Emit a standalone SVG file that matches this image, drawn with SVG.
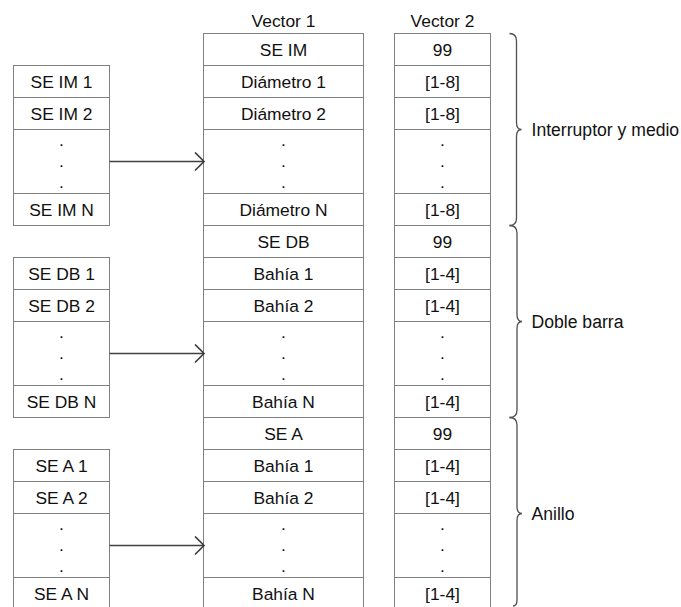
<svg xmlns="http://www.w3.org/2000/svg" width="681" height="607" viewBox="0 0 681 607">
  <defs>
    <style>
      .cell { fill: #ffffff; stroke: #808080; stroke-width: 1; }
      .t { font-family: "Liberation Sans", Arial, sans-serif; font-size: 17.4px; fill: #111111; text-anchor: middle; }
      .lbl { font-family: "Liberation Sans", Arial, sans-serif; font-size: 17.6px; fill: #111111; }
      .link { fill: none; stroke: #404040; stroke-width: 1.7; }
      .brace { fill: none; stroke: #505050; stroke-width: 1.3; }
    </style>
    <marker id="open" viewBox="0 0 12 20" refX="10" refY="10" markerWidth="12" markerHeight="20" markerUnits="userSpaceOnUse" orient="auto">
      <path d="M1 1 L10 10 L1 19" fill="none" stroke="#404040" stroke-width="1.7"/>
    </marker>
  </defs>

  <rect width="681" height="607" fill="#ffffff"/>

  <!-- column headers -->
  <g id="headers">
    <text class="t" x="283.5" y="27">Vector 1</text>
    <text class="t" x="442.5" y="27">Vector 2</text>
  </g>

  <!-- ===== Interruptor y medio block (rows 33.5 .. 225.5) ===== -->
  <g id="list-im">
    <rect class="cell" x="13.5" y="65.5" width="96" height="32"/>
    <rect class="cell" x="13.5" y="97.5" width="96" height="32"/>
    <rect class="cell" x="13.5" y="129.5" width="96" height="64"/>
    <rect class="cell" x="13.5" y="193.5" width="96" height="32"/>
    <text class="t" x="61.5" y="87.5">SE IM 1</text>
    <text class="t" x="61.5" y="119.5">SE IM 2</text>
    <text class="t" x="61.5" y="146">.</text>
    <text class="t" x="61.5" y="167">.</text>
    <text class="t" x="61.5" y="188">.</text>
    <text class="t" x="61.5" y="215.5">SE IM N</text>
  </g>
  <g id="vector1-im">
    <rect class="cell" x="203.5" y="33.5" width="160" height="32"/>
    <rect class="cell" x="203.5" y="65.5" width="160" height="32"/>
    <rect class="cell" x="203.5" y="97.5" width="160" height="32"/>
    <rect class="cell" x="203.5" y="129.5" width="160" height="64"/>
    <rect class="cell" x="203.5" y="193.5" width="160" height="32"/>
    <text class="t" x="283.5" y="55.5">SE IM</text>
    <text class="t" x="283.5" y="87.5">Diámetro 1</text>
    <text class="t" x="283.5" y="119.5">Diámetro 2</text>
    <text class="t" x="283.5" y="146">.</text>
    <text class="t" x="283.5" y="167">.</text>
    <text class="t" x="283.5" y="188">.</text>
    <text class="t" x="283.5" y="215.5">Diámetro N</text>
  </g>
  <g id="vector2-im">
    <rect class="cell" x="394.5" y="33.5" width="96" height="32"/>
    <rect class="cell" x="394.5" y="65.5" width="96" height="32"/>
    <rect class="cell" x="394.5" y="97.5" width="96" height="32"/>
    <rect class="cell" x="394.5" y="129.5" width="96" height="64"/>
    <rect class="cell" x="394.5" y="193.5" width="96" height="32"/>
    <text class="t" x="442.5" y="55.5">99</text>
    <text class="t" x="442.5" y="87.5">[1-8]</text>
    <text class="t" x="442.5" y="119.5">[1-8]</text>
    <text class="t" x="442.5" y="146">.</text>
    <text class="t" x="442.5" y="167">.</text>
    <text class="t" x="442.5" y="188">.</text>
    <text class="t" x="442.5" y="215.5">[1-8]</text>
  </g>
  <g id="group-im">
    <path class="brace" d="M509.5 33.5 Q516.5 33.5 516.5 41 V122.5 Q516.5 129.5 521.5 129.5 Q516.5 129.5 516.5 136.5 V218 Q516.5 225.5 509.5 225.5"/>
    <text class="lbl" x="531.5" y="135.5">Interruptor y medio</text>
  </g>

  <!-- ===== Doble barra block (rows 225.5 .. 417.5) ===== -->
  <g id="list-db">
    <rect class="cell" x="13.5" y="257.5" width="96" height="32"/>
    <rect class="cell" x="13.5" y="289.5" width="96" height="32"/>
    <rect class="cell" x="13.5" y="321.5" width="96" height="64"/>
    <rect class="cell" x="13.5" y="385.5" width="96" height="32"/>
    <text class="t" x="61.5" y="279.5">SE DB 1</text>
    <text class="t" x="61.5" y="311.5">SE DB 2</text>
    <text class="t" x="61.5" y="338">.</text>
    <text class="t" x="61.5" y="359">.</text>
    <text class="t" x="61.5" y="380">.</text>
    <text class="t" x="61.5" y="407.5">SE DB N</text>
  </g>
  <g id="vector1-db">
    <rect class="cell" x="203.5" y="225.5" width="160" height="32"/>
    <rect class="cell" x="203.5" y="257.5" width="160" height="32"/>
    <rect class="cell" x="203.5" y="289.5" width="160" height="32"/>
    <rect class="cell" x="203.5" y="321.5" width="160" height="64"/>
    <rect class="cell" x="203.5" y="385.5" width="160" height="32"/>
    <text class="t" x="283.5" y="247.5">SE DB</text>
    <text class="t" x="283.5" y="279.5">Bahía 1</text>
    <text class="t" x="283.5" y="311.5">Bahía 2</text>
    <text class="t" x="283.5" y="338">.</text>
    <text class="t" x="283.5" y="359">.</text>
    <text class="t" x="283.5" y="380">.</text>
    <text class="t" x="283.5" y="407.5">Bahía N</text>
  </g>
  <g id="vector2-db">
    <rect class="cell" x="394.5" y="225.5" width="96" height="32"/>
    <rect class="cell" x="394.5" y="257.5" width="96" height="32"/>
    <rect class="cell" x="394.5" y="289.5" width="96" height="32"/>
    <rect class="cell" x="394.5" y="321.5" width="96" height="64"/>
    <rect class="cell" x="394.5" y="385.5" width="96" height="32"/>
    <text class="t" x="442.5" y="247.5">99</text>
    <text class="t" x="442.5" y="279.5">[1-4]</text>
    <text class="t" x="442.5" y="311.5">[1-4]</text>
    <text class="t" x="442.5" y="338">.</text>
    <text class="t" x="442.5" y="359">.</text>
    <text class="t" x="442.5" y="380">.</text>
    <text class="t" x="442.5" y="407.5">[1-4]</text>
  </g>
  <g id="group-db">
    <path class="brace" d="M509.5 225.5 Q517 225.5 517 233 V314.5 Q517 321.5 522 321.5 Q517 321.5 517 328.5 V410 Q517 417.5 509.5 417.5"/>
    <text class="lbl" x="531.5" y="327.5">Doble barra</text>
  </g>

  <!-- ===== Anillo block (rows 417.5 .. 609.5, cut at the lower edge) ===== -->
  <g id="list-a">
    <rect class="cell" x="13.5" y="449.5" width="96" height="32"/>
    <rect class="cell" x="13.5" y="481.5" width="96" height="32"/>
    <rect class="cell" x="13.5" y="513.5" width="96" height="64"/>
    <rect class="cell" x="13.5" y="577.5" width="96" height="32"/>
    <text class="t" x="61.5" y="471.5">SE A 1</text>
    <text class="t" x="61.5" y="503.5">SE A 2</text>
    <text class="t" x="61.5" y="530">.</text>
    <text class="t" x="61.5" y="551">.</text>
    <text class="t" x="61.5" y="572">.</text>
    <text class="t" x="61.5" y="599.5">SE A N</text>
  </g>
  <g id="vector1-a">
    <rect class="cell" x="203.5" y="417.5" width="160" height="32"/>
    <rect class="cell" x="203.5" y="449.5" width="160" height="32"/>
    <rect class="cell" x="203.5" y="481.5" width="160" height="32"/>
    <rect class="cell" x="203.5" y="513.5" width="160" height="64"/>
    <rect class="cell" x="203.5" y="577.5" width="160" height="32"/>
    <text class="t" x="283.5" y="439.5">SE A</text>
    <text class="t" x="283.5" y="471.5">Bahía 1</text>
    <text class="t" x="283.5" y="503.5">Bahía 2</text>
    <text class="t" x="283.5" y="530">.</text>
    <text class="t" x="283.5" y="551">.</text>
    <text class="t" x="283.5" y="572">.</text>
    <text class="t" x="283.5" y="599.5">Bahía N</text>
  </g>
  <g id="vector2-a">
    <rect class="cell" x="394.5" y="417.5" width="96" height="32"/>
    <rect class="cell" x="394.5" y="449.5" width="96" height="32"/>
    <rect class="cell" x="394.5" y="481.5" width="96" height="32"/>
    <rect class="cell" x="394.5" y="513.5" width="96" height="64"/>
    <rect class="cell" x="394.5" y="577.5" width="96" height="32"/>
    <text class="t" x="442.5" y="439.5">99</text>
    <text class="t" x="442.5" y="471.5">[1-4]</text>
    <text class="t" x="442.5" y="503.5">[1-4]</text>
    <text class="t" x="442.5" y="530">.</text>
    <text class="t" x="442.5" y="551">.</text>
    <text class="t" x="442.5" y="572">.</text>
    <text class="t" x="442.5" y="599.5">[1-4]</text>
  </g>
  <g id="group-a">
    <path class="brace" d="M509.5 417.5 Q517 417.5 517 425 V506.5 Q517 513.5 522 513.5 Q517 513.5 517 520.5 V600 Q517 606 513 606"/>
    <text class="lbl" x="531.5" y="519.5">Anillo</text>
  </g>

  <!-- connectors: list -> vector -->
  <g id="connectors">
    <line class="link" x1="109.5" y1="161.5" x2="204" y2="161.5" marker-end="url(#open)"/>
    <line class="link" x1="109.5" y1="353.5" x2="204" y2="353.5" marker-end="url(#open)"/>
    <line class="link" x1="109.5" y1="545.5" x2="204" y2="545.5" marker-end="url(#open)"/>
  </g>
</svg>
